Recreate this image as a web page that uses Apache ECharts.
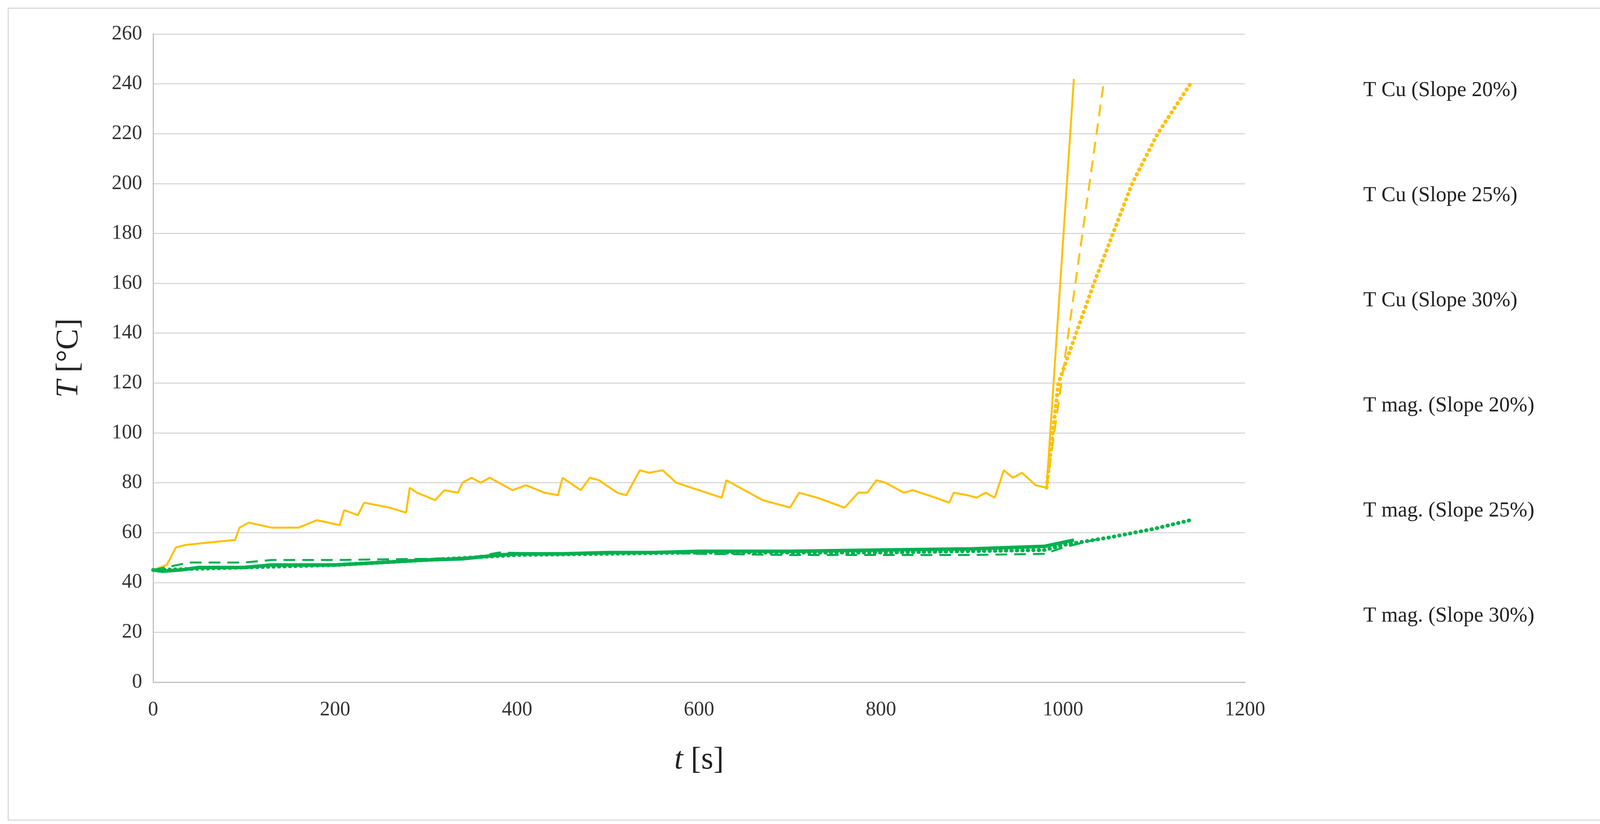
<!DOCTYPE html>
<html><head><meta charset="utf-8">
<script src="https://cdn.jsdelivr.net/npm/echarts@6/dist/echarts.min.js"></script>
<style>html,body{margin:0;background:#fff}#c{width:4130px;height:2109px}</style>
</head><body><div id="c"></div>
<script>
// Cu temperature, common part up to the breakdown (slope 30% trace)
var cuBase = [[0,45],[15,47],[25,54],[35,55],[60,56],[90,57],[95,62],[105,64],[130,62],[160,62],[180,65],[205,63],[210,69],[225,67],[232,72],[260,70],[278,68],[282,78],[290,76],[310,73],[320,77],[335,76],[340,80],[350,82],[360,80],[370,82],[395,77],[410,79],[430,76],[445,75],[450,82],[470,77],[480,82],[490,81],[510,76],[520,75],[535,85],[545,84],[560,85],[575,80],[600,77],[625,74],[630,81],[650,77],[670,73],[700,70],[710,76],[730,74],[760,70],[775,76],[785,76],[795,81],[805,80],[825,76],[835,77],[860,74],[875,72],[880,76],[895,75],[905,74],[915,76],[925,74],[935,85],[945,82],[955,84],[970,79],[982,78]];
var cu30 = cuBase.concat([[1012,242]]);
var cu25 = [[982,78],[1045,241]];
var cu20 = [[982,78],[995,120],[1034,160],[1055,180],[1076,200],[1104,220],[1140,240]];
var mag30 = [[0,45],[10,44.5],[30,45],[50,46],[100,46],[130,47],[200,47],[250,48],[300,49],[340,49.5],[380,51],[400,51.5],[450,51.5],[500,52],[550,52],[600,52.5],[700,52.5],[800,53],[900,53.5],[980,54.5],[1012,57]];
var mag25 = [[0,45],[40,48],[100,48],[130,49],[200,49],[300,49.5],[350,50],[380,52],[450,51.5],[550,52],[600,51.5],[700,51],[800,51],[900,51],[980,51.5],[1000,54],[1045,58]];
var mag20 = [[0,45],[200,47],[400,51],[600,52],[800,52],[980,53],[1000,55],[1050,58],[1100,61.5],[1140,65]];
var names = ['T Cu (Slope 20%)','T Cu (Slope 25%)','T Cu (Slope 30%)','T mag. (Slope 20%)','T mag. (Slope 25%)','T mag. (Slope 30%)'];

var yellow = '#FFC000', green = '#00B050';
var DOT = [1, 13], DASH = [30, 18];
var styles = [
  {color:yellow, type:DOT, width:10, cap:'round'},
  {color:yellow, type:DASH, width:5, cap:'butt'},
  {color:yellow, type:'solid', width:5, cap:'butt'},
  {color:green, type:DOT, width:10, cap:'round'},
  {color:green, type:DASH, width:5, cap:'butt'},
  {color:green, type:'solid', width:9, cap:'butt'}
];
var datas = [cu20, cu25, cu30, mag20, mag25, mag30];
var series = names.map(function(n, i){
  return {name:n, type:'line', data:datas[i], symbol:'none', showSymbol:false, animation:false,
    lineStyle:styles[i], itemStyle:{color:styles[i].color}};
});
var legendData = names.map(function(n, i){
  return {name:n, icon:'none', lineStyle:styles[i], itemStyle:{opacity:0}};
});
var chart = echarts.init(document.getElementById('c'));
chart.setOption({
  backgroundColor:'#fff',
  textStyle:{fontFamily:'Liberation Serif'},
  graphic:[{type:'rect', shape:{x:21,y:21,width:4088,height:2078}, style:{fill:'none', stroke:'#d9d9d9', lineWidth:3}}],
  grid:{left:392, right:4130-3187, top:87, bottom:2109-1746},
  legend:{orient:'vertical', left:3330, top:200, itemGap:215, itemWidth:150, itemHeight:20,
    data:legendData, textStyle:{fontSize:54, color:'#222', fontFamily:'Liberation Serif'}},
  xAxis:{type:'value', min:0, max:1200, interval:200,
    axisLine:{lineStyle:{color:'#bfbfbf', width:3}}, axisTick:{show:false}, splitLine:{show:false},
    axisLabel:{fontSize:52, color:'#333', margin:45, formatter:function(v){return String(v);}},
    name:'{i|t} [s]', nameLocation:'middle', nameGap:160,
    nameTextStyle:{fontSize:80, color:'#222', rich:{i:{fontStyle:'italic', fontSize:80, fontFamily:'Liberation Serif'}}}},
  yAxis:{type:'value', min:0, max:260, interval:20,
    axisLine:{show:true, lineStyle:{color:'#bfbfbf', width:3}}, axisTick:{show:false},
    splitLine:{lineStyle:{color:'#d9d9d9', width:3}},
    axisLabel:{fontSize:52, color:'#333', margin:28},
    name:'{i|T} [°C]', nameLocation:'middle', nameGap:175,
    nameTextStyle:{fontSize:80, color:'#222', rich:{i:{fontStyle:'italic', fontSize:80, fontFamily:'Liberation Serif'}}}},
  series:series
});
</script></body></html>
